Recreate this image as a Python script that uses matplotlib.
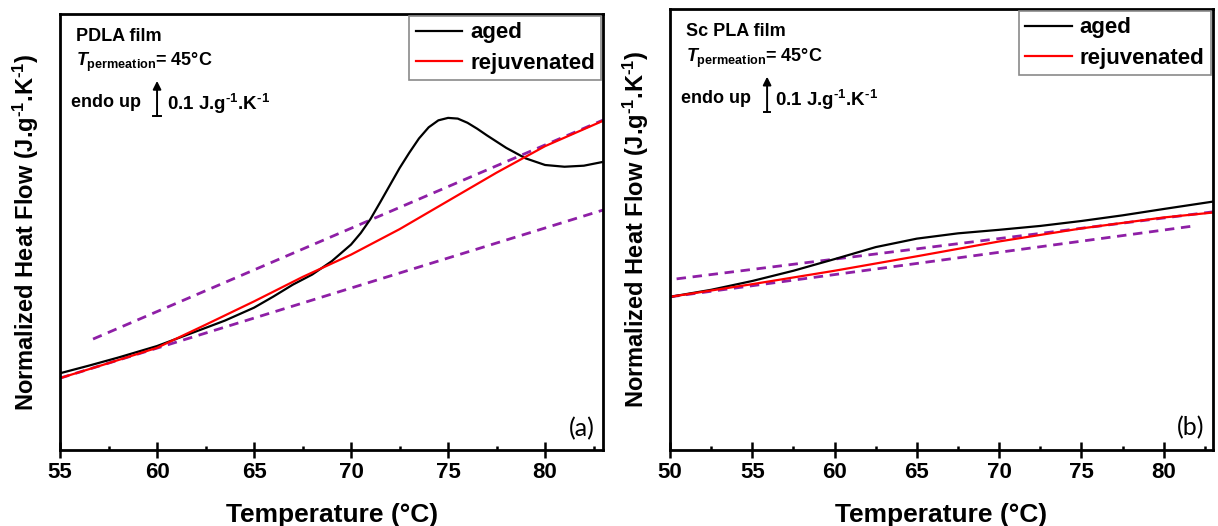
import numpy as np
import matplotlib
matplotlib.use('Agg')
import matplotlib.pyplot as plt
from matplotlib.ticker import MultipleLocator

plt.rcParams['font.family'] = ['Liberation Sans', 'DejaVu Sans']
plt.rcParams['font.weight'] = 'bold'
plt.rcParams['mathtext.fontset'] = 'custom'
plt.rcParams['mathtext.rm'] = 'Liberation Sans:bold'
plt.rcParams['mathtext.bf'] = 'Liberation Sans:bold'
plt.rcParams['mathtext.it'] = 'Liberation Sans:bold:italic'

# --- (a) PDLA film ---
a_aged_T = [55, 56.5, 58, 60, 62.5, 63.5, 65, 66, 67, 68, 69, 70, 70.5, 71, 71.5, 72, 72.5,
            73, 73.5, 74, 74.5, 75, 75.5, 76, 76.5, 77, 78, 79, 80, 81, 82, 83]
a_aged_HF = [0.220, 0.242, 0.265, 0.298, 0.350, 0.371, 0.408, 0.440, 0.474, 0.503, 0.541,
             0.589, 0.622, 0.662, 0.710, 0.759, 0.808, 0.852, 0.893, 0.925, 0.945, 0.952,
             0.950, 0.938, 0.921, 0.902, 0.866, 0.836, 0.817, 0.812, 0.815, 0.826]
a_rej_T = [55, 57.5, 60, 62.5, 65, 67.5, 70, 72.5, 75, 77.5, 80, 83]
a_rej_HF = [0.206, 0.249, 0.293, 0.359, 0.426, 0.496, 0.560, 0.633, 0.714, 0.795, 0.871, 0.944]
a_base_hi_T = [56.7, 83]
a_base_hi_HF = [0.318, 0.946]
a_base_lo_T = [55, 83]
a_base_lo_HF = [0.206, 0.688]

# --- (b) Sc PLA film ---
b_aged_T = [50, 52.5, 55, 57.5, 60, 62.5, 65, 67.5, 70, 72.5, 75, 77.5, 80, 83]
b_aged_HF = [0.434, 0.454, 0.479, 0.508, 0.541, 0.575, 0.599, 0.614, 0.624, 0.635,
             0.649, 0.665, 0.683, 0.704]
b_rej_T = [50, 55, 60, 65, 70, 75, 80, 83]
b_rej_HF = [0.434, 0.470, 0.508, 0.549, 0.591, 0.628, 0.659, 0.673]
b_base_hi_T = [50.4, 83]
b_base_hi_HF = [0.485, 0.675]
b_base_lo_T = [50, 82]
b_base_lo_HF = [0.434, 0.636]

purple = '#8E1FA6'
unit = r'J.g$^{\text{-1}}$.K$^{\text{-1}}$'

fig = plt.figure(figsize=(12.18, 5.26), dpi=100)
ax1 = fig.add_axes([0.0493, 0.1445, 0.4460, 0.8290])
ax2 = fig.add_axes([0.5501, 0.1445, 0.4458, 0.8385])


def draw_panel(ax, aged_T, aged_HF, rej_T, rej_HF, hi_T, hi_HF, lo_T, lo_HF,
               xlim, film, arrow_x, letter):
    ax.plot(hi_T, hi_HF, color=purple, lw=2, dashes=(3.4, 2.4))
    ax.plot(lo_T, lo_HF, color=purple, lw=2, dashes=(3.4, 2.4))
    ax.plot(aged_T, aged_HF, color='black', lw=1.6, label='aged')
    ax.plot(rej_T, rej_HF, color='red', lw=1.6, label='rejuvenated')

    ax.set_xlim(*xlim)
    ax.set_ylim(0, 1.25)
    ax.set_yticks([])
    ax.xaxis.set_major_locator(MultipleLocator(5))
    ax.xaxis.set_minor_locator(MultipleLocator(2.5))
    ax.tick_params(axis='x', which='major', direction='inout', length=12, width=1.8,
                   labelsize=16, pad=3)
    ax.tick_params(axis='x', which='minor', direction='in', length=3, width=1.8)
    for lab in ax.get_xticklabels():
        lab.set_fontweight('bold')
    for sp in ax.spines.values():
        sp.set_linewidth(2)

    ax.set_xlabel('Temperature (°C)', fontsize=19, fontweight='bold', labelpad=14)
    ax.set_ylabel('Normalized Heat Flow (' + unit + ')', fontsize=17,
                  fontweight='bold', labelpad=14)

    leg = ax.legend(loc='upper right', fontsize=16, frameon=True, fancybox=False,
                    edgecolor='#8a8a8a', framealpha=1, borderaxespad=0.1,
                    borderpad=0.28, handlelength=2.1, handletextpad=0.35,
                    labelspacing=0.42, prop={'weight': 'bold', 'size': 16})
    leg.get_frame().set_linewidth(1.2)

    ax.text(0.03, 0.948, film, transform=ax.transAxes, fontsize=13,
            fontweight='bold', va='center', ha='left')
    ax.text(0.03, 0.888, r'$T_{\mathrm{permeation}}$= 45°C', transform=ax.transAxes,
            fontsize=13, fontweight='bold', va='center', ha='left')
    ax.text(0.021, 0.798, 'endo up', transform=ax.transAxes, fontsize=13,
            fontweight='bold', va='center', ha='left')
    ax.annotate('', xy=(arrow_x, 1.058), xytext=(arrow_x, 0.958),
                arrowprops=dict(arrowstyle='-|>', color='black', lw=1.4,
                                mutation_scale=12, shrinkA=0, shrinkB=0))
    ax.plot([arrow_x - 0.2, arrow_x + 0.2], [0.958, 0.958], color='black', lw=1.4)
    ax.text(arrow_x + 0.5, 0.993, '0.1 ' + unit, fontsize=13.5,
            fontweight='bold', va='center', ha='left')
    ax.text(0.985, 0.05, letter, transform=ax.transAxes, fontsize=18,
            fontweight='normal', family='Lato', va='center', ha='right')


draw_panel(ax1, a_aged_T, a_aged_HF, a_rej_T, a_rej_HF, a_base_hi_T, a_base_hi_HF,
           a_base_lo_T, a_base_lo_HF, (55, 83), 'PDLA film', 60.0, '(a)')
draw_panel(ax2, b_aged_T, b_aged_HF, b_rej_T, b_rej_HF, b_base_hi_T, b_base_hi_HF,
           b_base_lo_T, b_base_lo_HF, (50, 83), 'Sc PLA film', 55.9, '(b)')

fig.savefig('out.png', dpi=100)
